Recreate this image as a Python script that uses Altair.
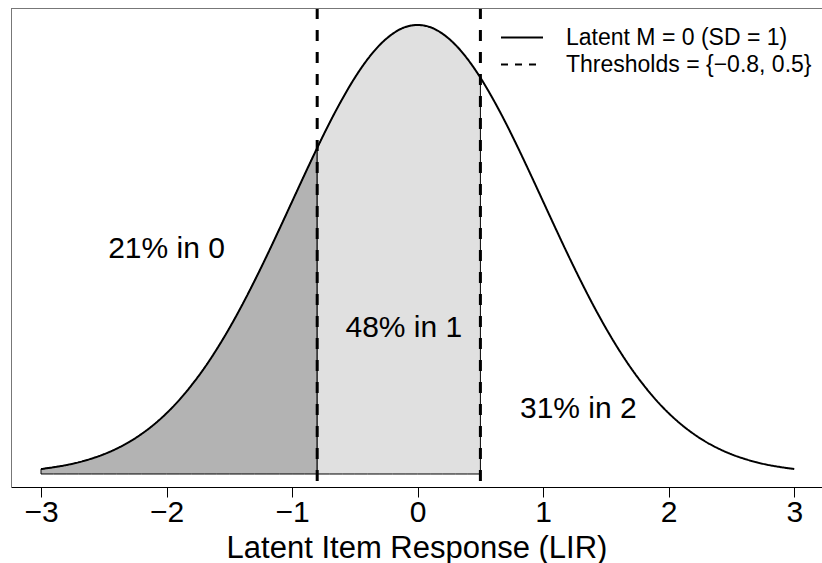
import altair as alt
import pandas as pd

# ---- data ----
x_vals = [-3.0, -2.9, -2.8, -2.7, -2.6, -2.5, -2.4, -2.3, -2.2, -2.1,
          -2.0, -1.9, -1.8, -1.7, -1.6, -1.5, -1.4, -1.3, -1.2, -1.1,
          -1.0, -0.9, -0.8, -0.7, -0.6, -0.5, -0.4, -0.3, -0.2, -0.1,
          0.0, 0.1, 0.2, 0.3, 0.4, 0.5, 0.6, 0.7, 0.8, 0.9,
          1.0, 1.1, 1.2, 1.3, 1.4, 1.5, 1.6, 1.7, 1.8, 1.9,
          2.0, 2.1, 2.2, 2.3, 2.4, 2.5, 2.6, 2.7, 2.8, 2.9, 3.0]
density = [0.0044, 0.0060, 0.0079, 0.0104, 0.0136, 0.0175, 0.0224, 0.0283, 0.0355, 0.0440,
           0.0540, 0.0656, 0.0790, 0.0940, 0.1109, 0.1295, 0.1497, 0.1714, 0.1942, 0.2179,
           0.2420, 0.2661, 0.2897, 0.3123, 0.3332, 0.3521, 0.3683, 0.3814, 0.3910, 0.3970,
           0.3989, 0.3970, 0.3910, 0.3814, 0.3683, 0.3521, 0.3332, 0.3123, 0.2897, 0.2661,
           0.2420, 0.2179, 0.1942, 0.1714, 0.1497, 0.1295, 0.1109, 0.0940, 0.0790, 0.0656,
           0.0540, 0.0440, 0.0355, 0.0283, 0.0224, 0.0175, 0.0136, 0.0104, 0.0079, 0.0060, 0.0044]
thresholds = [-0.8, 0.5]
label_text = ["21% in 0", "48% in 1", "31% in 2"]
label_x = [-2.0, -0.11, 1.28]
label_y = [0.200, 0.130, 0.058]
x_ticks = [-3, -2, -1, 0, 1, 2, 3]
series_names = ["Latent M = 0 (SD = 1)", "Thresholds = {\u22120.8, 0.5}"]

FONT = "Liberation Sans"
W, H = 811, 479

curve = pd.DataFrame({"x": x_vals, "d": density, "series": series_names[0]})
dark = curve[curve["x"] <= thresholds[0] + 1e-9]
light = curve[(curve["x"] >= thresholds[0] - 1e-9) & (curve["x"] <= thresholds[1] + 1e-9)]
rules = pd.DataFrame({"x": thresholds, "series": series_names[1]})
labels = pd.DataFrame({"x": label_x, "y": label_y, "t": label_text})

xscale = alt.Scale(domain=[-3.239, 3.221], nice=False, zero=False)
yscale = alt.Scale(domain=[-0.01155, 0.414], nice=False, zero=False)

xaxis = alt.Axis(values=x_ticks, grid=False, tickSize=10, tickColor="black", tickWidth=1,
                 domainColor="black", domainWidth=1, labelFontSize=30, labelFont=FONT,
                 labelColor="black", labelPadding=0, labelFlush=False,
                 labelExpr="datum.value < 0 ? '\u2212' + abs(datum.value) : '' + datum.value",
                 title="Latent Item Response (LIR)", titleFont=FONT, titleFontSize=31,
                 titleFontWeight="normal", titleColor="black", titlePadding=6)
yaxis = alt.Axis(title=None, labels=False, ticks=False, grid=False, domain=True,
                 domainColor="#777777", domainWidth=1)

X = alt.X("x:Q", scale=xscale, axis=xaxis)
Y = alt.Y("d:Q", scale=yscale, axis=yaxis)

dash_scale = alt.Scale(domain=series_names, range=[[1, 0], [7, 7]])
legend = alt.Legend(orient="none", legendX=499.5, legendY=18, title=None, padding=0,
                    symbolType="M-2,0H2", symbolSize=441, symbolStrokeWidth=2,
                    symbolStrokeColor="black", symbolFillColor="transparent",
                    labelFont=FONT, labelFontSize=23,
                    labelColor="black", labelOffset=32.5, rowPadding=3, labelLimit=400)

dark_area = alt.Chart(dark).mark_area(color="#B3B3B3", stroke="black", strokeWidth=1,
                                      interpolate="monotone").encode(x=X, y=Y, y2=alt.datum(0))
light_area = alt.Chart(light).mark_area(color="#E0E0E0", stroke="black", strokeWidth=1,
                                        interpolate="monotone").encode(x=X, y=Y, y2=alt.datum(0))
line = alt.Chart(curve).mark_line(color="black", strokeWidth=2, interpolate="monotone").encode(
    x=X, y=Y, strokeDash=alt.StrokeDash("series:N", scale=dash_scale, legend=legend))
rule = alt.Chart(rules).mark_rule(color="black", strokeWidth=3, strokeDash=[11, 11]).encode(
    x=alt.X("x:Q", scale=xscale, axis=xaxis))
text = alt.Chart(labels).mark_text(font=FONT, fontSize=30, color="black",
                                   align="center", baseline="middle").encode(
    x=alt.X("x:Q", scale=xscale, axis=xaxis), y=alt.Y("y:Q", scale=yscale, axis=yaxis), text="t:N")
legend_src = alt.Chart(rules).mark_line(color="black", strokeWidth=2, opacity=0).encode(
    x=alt.X("x:Q", scale=xscale, axis=xaxis), y=alt.value(0),
    strokeDash=alt.StrokeDash("series:N", scale=dash_scale, legend=legend))
top_border = alt.Chart(labels).mark_rule(color="#777777", strokeWidth=1).encode(
    x=alt.value(0), x2=alt.value(W), y=alt.value(0.5))

chart = alt.layer(dark_area, light_area, line, rule, legend_src, text, top_border).properties(
    width=W, height=H, autosize=alt.AutoSizeParams(type="none"),
    padding={"left": 11, "top": 8, "right": 0, "bottom": 76},
    background="white"
).configure_view(stroke=None)

chart.save("out.html", embed_options={"renderer": "svg", "actions": False})
